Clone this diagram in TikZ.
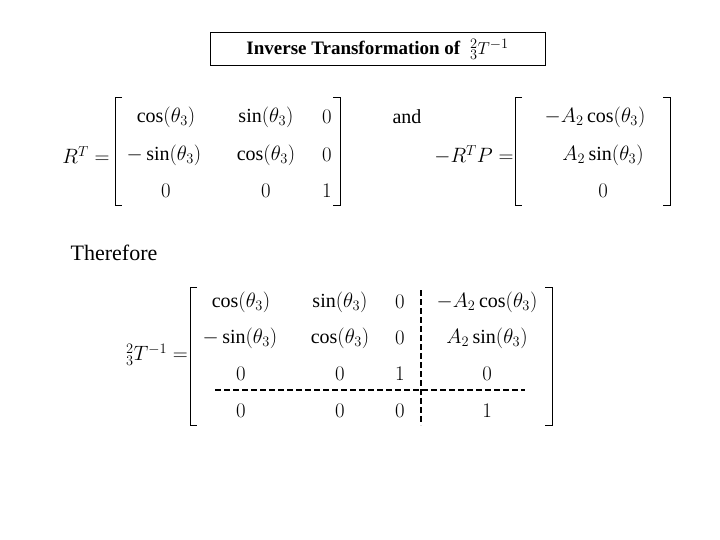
\documentclass[tikz,border=0pt]{standalone}
\usepackage{fontspec}
\setmainfont{Liberation Serif}
\begin{document}
\begin{tikzpicture}[x=1pt,y=-1pt,
  e/.style={font=\fontsize{20}{22}\selectfont, inner sep=0pt},
  brk/.style={line width=0.9pt},
  dsh/.style={line width=2pt, dash pattern=on 6pt off 3pt}]
\useasboundingbox (0,0) rectangle (720,540);
\node[draw, line width=0.6pt, minimum width=335pt, minimum height=33pt, inner sep=0pt] (title) at (377.5,49)
 {\fontsize{19}{21}\selectfont\textbf{Inverse Transformation of} \ ${}^{2}_{3}T^{-1}$};
% first matrix
\node[e] (rt) at (86,155) {$R^T=$};
\draw[brk] (122,97) -- (115,97) -- (115,205) -- (122,205);
\draw[brk] (333,97) -- (340,97) -- (340,205) -- (333,205);
\node[e] (a11) at (166,117) {$\cos(\theta_3)$};
\node[e] (a12) at (266,117) {$\sin(\theta_3)$};
\node[e] (a13) at (327,117) {$0$};
\node[e] (a21) at (164,155) {$-\sin(\theta_3)$};
\node[e] (a22) at (266,155) {$\cos(\theta_3)$};
\node[e] (a23) at (327,155) {$0$};
\node[e] (a31) at (166,191) {$0$};
\node[e] (a32) at (266,191) {$0$};
\node[e] (a33) at (327,191) {$1$};
\node[e] (and) at (407,117) {and};
% second
\node[e] (rp) at (474,155) {$-R^TP=$};
\draw[brk] (522,97) -- (515,97) -- (515,205) -- (522,205);
\draw[brk] (663,97) -- (670,97) -- (670,205) -- (663,205);
\node[e] (p1) at (595,117) {$-A_2\cos(\theta_3)$};
\node[e] (p2) at (603,155) {$A_2\sin(\theta_3)$};
\node[e] (p3) at (603,191) {$0$};
\node[e, font=\fontsize{22}{24}\selectfont] (th) at (114,253) {Therefore};
% third
\node[e] (ti) at (157,355) {${}^{2}_{3}T^{-1}=$};
\draw[brk] (197,287) -- (190,287) -- (190,425) -- (197,425);
\draw[brk] (545,287) -- (552,287) -- (552,425) -- (545,425);
\node[e] (b11) at (241,302) {$\cos(\theta_3)$};
\node[e] (b12) at (340,302) {$\sin(\theta_3)$};
\node[e] (b13) at (400,302) {$0$};
\node[e] (b14) at (487,302) {$-A_2\cos(\theta_3)$};
\node[e] (b21) at (240,338) {$-\sin(\theta_3)$};
\node[e] (b22) at (340,338) {$\cos(\theta_3)$};
\node[e] (b23) at (400,338) {$0$};
\node[e] (b24) at (487,338) {$A_2\sin(\theta_3)$};
\node[e] (b31) at (241,374) {$0$};
\node[e] (b32) at (340,374) {$0$};
\node[e] (b33) at (400,374) {$1$};
\node[e] (b34) at (487,374) {$0$};
\node[e] (b41) at (241,411) {$0$};
\node[e] (b42) at (340,411) {$0$};
\node[e] (b43) at (400,411) {$0$};
\node[e] (b44) at (487,411) {$1$};
\coordinate (v1) at (421,290); \coordinate (v2) at (421,425);
\coordinate (h1) at (215,390); \coordinate (h2) at (525,390);
\draw[dsh] (v1) -- (v2);
\draw[dsh] (h1) -- (h2);
\end{tikzpicture}
\end{document}
